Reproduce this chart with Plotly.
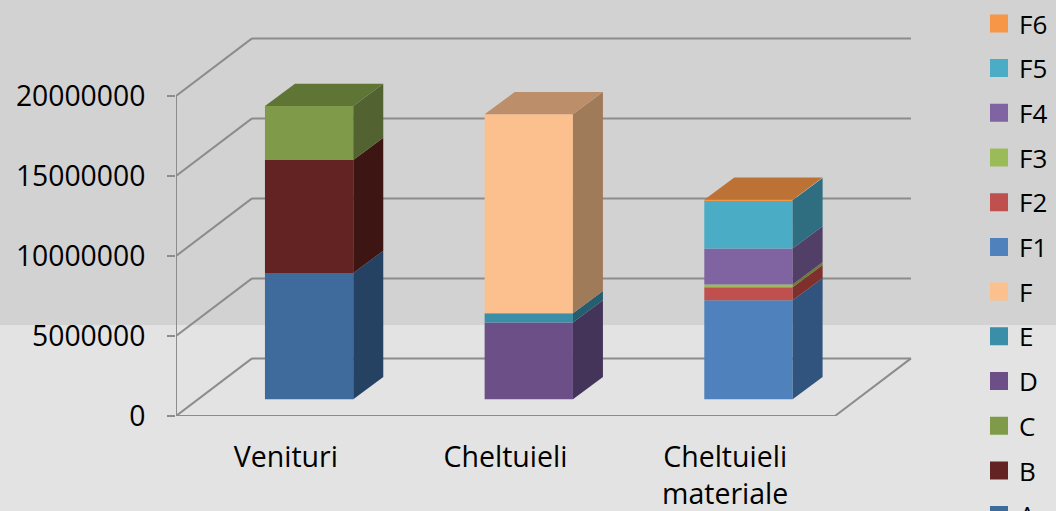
import plotly.graph_objects as go

categories = ["Venituri", "Cheltuieli", "Cheltuieli<br>materiale"]
series_names = ["A", "B", "C", "D", "E", "F", "F1", "F2", "F3", "F4", "F5", "F6"]

A = [7900000, 0, 0]
B = [7060000, 0, 0]
C = [3375000, 0, 0]
D = [0, 4800000, 0]
E = [0, 580000, 0]
F = [0, 12440000, 0]
F1 = [0, 0, 6200000]
F2 = [0, 0, 810000]
F3 = [0, 0, 170000]
F4 = [0, 0, 2250000]
F5 = [0, 0, 3020000]
F6 = [0, 0, 30000]
series_values = [A, B, C, D, E, F, F1, F2, F3, F4, F5, F6]

front_colors = ["#3f6a9c", "#622322", "#7f9a49", "#6b4f86", "#3a8ea8", "#fcc08e",
                "#4f81bd", "#c0504d", "#9bbb59", "#8064a2", "#4bacc6", "#f79646"]
side_colors = ["#264263", "#3d1513", "#526230", "#45345a", "#265e70", "#a07b5a",
               "#31547e", "#7f2f2c", "#6a7d35", "#523f68", "#2f6e80", "#a96a30"]
top_colors = ["#315379", "#4d1b1a", "#5f7535", "#563f6c", "#2e7186", "#bc8f6a",
              "#3f6897", "#9a403d", "#7c9647", "#665082", "#3c8a9e", "#bd7235"]

y_ticks = [0, 5000000, 10000000, 15000000, 20000000]
grid_ticks = y_ticks

# projection of the 3-D look, in axis units
BAR_CENTER = 0.606
BAR_WIDTH = 0.402
BAR_LIFT = 1040000
BAR_DX = 0.1366
BAR_DY = 1390000
WALL_DX = 0.346
WALL_DY = 3600000
N = len(categories)

GRID = "#8c8c8c"
fig = go.Figure()
shapes = [dict(type="rect", xref="paper", yref="paper", x0=-1, x1=2, y0=(511 - 325 - 95) / (511 - 95 - 30), y1=2,
               fillcolor="#d2d2d2", line_width=0, layer="below")]
for v in grid_ticks:
    shapes.append(dict(type="line", xref="x", yref="y", x0=WALL_DX, x1=N + WALL_DX,
                       y0=v + WALL_DY, y1=v + WALL_DY,
                       line=dict(color=GRID, width=2), layer="below"))

xs, ys = [], []
for v in grid_ticks:
    xs += [0, WALL_DX, None]
    ys += [v, v + WALL_DY, None]
xs += [0, 0, None, 0, N, N + WALL_DX, None]
ys += [0, grid_ticks[-1], None, 0, 0, WALL_DY, None]
for i in range(N + 1):
    xs += [i, i, None]
    ys += [0, -500000, None]
fig.add_trace(go.Scatter(x=xs, y=ys, mode="lines", line=dict(color=GRID, width=2),
                         hoverinfo="skip", showlegend=False, cliponaxis=False))

stack = [BAR_LIFT] * N
last = {}
for s, vals in enumerate(series_values):
    for c, v in enumerate(vals):
        if v:
            last[c] = s
for s, (name, vals) in enumerate(zip(series_names, series_values)):
    base = list(stack)
    rank = len(series_names) - s
    fig.add_trace(go.Bar(x=[c + BAR_CENTER for c in range(N)], y=vals, base=base, width=BAR_WIDTH,
                         marker=dict(color=front_colors[s], line_width=0), name=name,
                         legendgroup=name, legendrank=rank, showlegend=False))
    for c, v in enumerate(vals):
        if not v:
            continue
        xr = c + BAR_CENTER + BAR_WIDTH / 2
        xl = xr - BAR_WIDTH
        b, t = base[c], base[c] + v
        fig.add_trace(go.Scatter(
            x=[xr, xr + BAR_DX, xr + BAR_DX, xr, xr],
            y=[b, b + BAR_DY, t + BAR_DY, t, b],
            mode="lines", line=dict(width=0), fill="toself", fillcolor=side_colors[s],
            hoverinfo="skip", legendgroup=name, legendrank=rank, showlegend=False))
        if last[c] == s:
            fig.add_trace(go.Scatter(
                x=[xl, xr, xr + BAR_DX, xl + BAR_DX, xl],
                y=[t, t, t + BAR_DY, t + BAR_DY, t],
                mode="lines", line=dict(width=0), fill="toself", fillcolor=top_colors[s],
                hoverinfo="skip", legendgroup=name, legendrank=rank, showlegend=False))
        stack[c] = t
    fig.add_trace(go.Scatter(x=[None], y=[None], mode="markers", name=name, legendgroup=name,
                             legendrank=rank,
                             marker=dict(symbol="square", size=16, color=front_colors[s],
                                         line=dict(color=front_colors[s], width=2))))

FONT = "Open Sans"
fig.update_layout(
    width=1056, height=511, autosize=False,
    margin=dict(l=176, r=136, t=30, b=95, autoexpand=False),
    paper_bgcolor="#e3e3e3", plot_bgcolor="rgba(0,0,0,0)",
    barmode="overlay", shapes=shapes,
    font=dict(family=FONT, size=28, color="#000000"),
    legend=dict(x=979 / 1056, xanchor="left", xref="container", y=1 + 6 / 511, yanchor="top", yref="container",
                traceorder="grouped", tracegroupgap=7.9, bgcolor="rgba(0,0,0,0)",
                itemsizing="trace", font=dict(family=FONT, size=26), maxheight=700),
    xaxis=dict(range=[0, 3.387], tickvals=[0.5, 1.5, 2.5], ticktext=categories, ticks="",
               showgrid=False, zeroline=False, showline=False, ticklabelstandoff=21,
               tickangle=0, tickfont=dict(family=FONT, size=28.5, color="#000000")),
    yaxis=dict(range=[0, 24125000], tickvals=y_ticks, ticktext=[str(v) for v in y_ticks],
               ticks="outside", ticklen=8, tickwidth=2, tickcolor=GRID,
               showgrid=False, zeroline=False, showline=False, ticklabelstandoff=16,
               tickfont=dict(family=FONT, size=28.3, color="#000000")),
)
fig.write_html("out.html", config=dict(displayModeBar=False),
               post_script="document.body.style.margin='0';document.body.style.overflow='hidden';")
